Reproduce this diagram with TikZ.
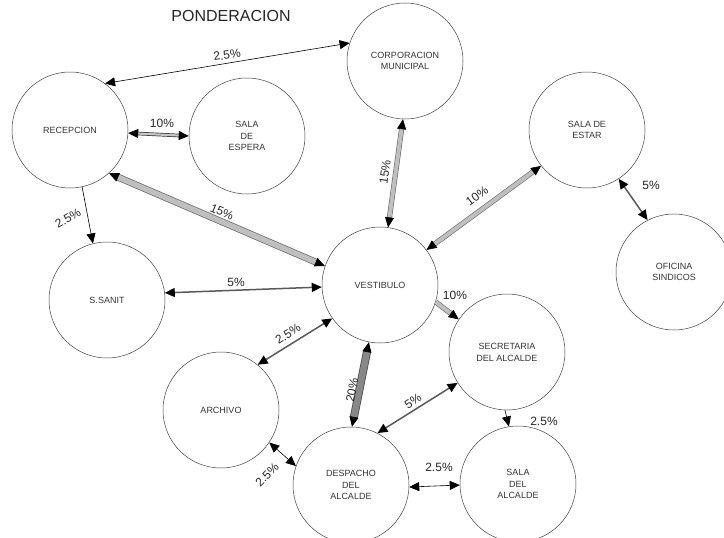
\documentclass[tikz,border=0pt]{standalone}
\usepackage{fontspec}
\setmainfont{Liberation Sans}
\usetikzlibrary{arrows.meta}

\begin{document}
\begin{tikzpicture}[x=1pt,y=-1pt,
  >={Triangle[length=10pt,width=9pt,black]},
  room/.style={circle, draw=black!75, line width=0.5pt, minimum size=116pt,
    inner sep=0pt, align=center, font=\fontsize{9}{11.8}\selectfont, text=black!80},
  slim/.style={draw=black, line width=0.6pt},
  mid/.style={draw=black!65, line width=1.5pt},
  dbl/.style={draw=black!80, line width=0.7pt, double=gray!45, double distance=2.2pt},
  band/.style={draw=black!60, line width=0.6pt, double=gray!50, double distance=4pt},
  bandbig/.style={draw=black!60, line width=0.7pt, double=gray!50, double distance=5.5pt},
  bandwide/.style={draw=black!70, line width=0.8pt, double=gray!45!black!60, double distance=6.5pt},
  pct/.style={font=\fontsize{12}{12}\selectfont, text=black!85, inner sep=0pt}
]
\useasboundingbox (0,0) rectangle (724,538);

% title
\node[font=\fontsize{16}{16}\selectfont, text=black!85] (title) at (231,16) {PONDERACION};

% rooms
\node[room] (rec)   at (70,130)  {RECEPCION};
\node[room] (esp)   at (247,136) {SALA\\DE\\ESPERA};
\node[room] (corp)  at (405,61)  {CORPORACION\\MUNICIPAL};
\node[room] (estar) at (587,130) {SALA DE\\ESTAR};
\node[room] (ofi)   at (674,272) {OFICINA\\SINDICOS};
\node[room] (vest)  at (380,285) {VESTIBULO};
\node[room] (sanit) at (107,300) {S.SANIT};
\node[room] (secr)  at (507,352) {SECRETARIA\\DEL ALCALDE};
\node[room] (arch)  at (221,410) {ARCHIVO};
\node[room] (desp)  at (351,485) {DESPACHO\\DEL\\ALCALDE};
\node[room] (salaA) at (518,484) {SALA\\DEL\\ALCALDE};

% relations
\draw[slim,<->]     (rec.53)    -- (corp.162);
\draw[dbl,<->]      (rec.-3)    -- (esp.180);
\draw[bandbig,<->]  (rec.-48)   -- (vest.161);
\draw[slim,->]      (rec.-78)   -- (sanit.104);
\draw[band,<->]     (corp.-92)  -- (vest.82);
\draw[band,<->]     (vest.37)   -- (estar.-142);
\draw[mid,<->]      (estar.-57) -- (ofi.117);
\draw[mid,<->]      (sanit.7)   -- (vest.182);
\draw[band,->]      (vest.-17)  -- (secr.146);
\draw[mid,<->]      (vest.-145) -- (arch.51);
\draw[bandwide,<->] (vest.-101) -- (desp.89);
\draw[mid,<->]      (secr.212)  -- (desp.63);
\draw[slim,->]      (secr.-92)  -- (salaA.99);
\draw[slim,<->]     (arch.-34)  -- (desp.161);
\draw[slim,<->]     (desp.-2)   -- (salaA.181);

% weights
\node[pct, rotate=8]   (w1)  at (227,55)  {2.5\%};
\node[pct]             (w2)  at (162,123) {10\%};
\node[pct, rotate=-22] (w3)  at (222,212) {15\%};
\node[pct, rotate=30]  (w4)  at (68,218)  {2.5\%};
\node[pct, rotate=82]  (w5)  at (385,172) {15\%};
\node[pct, rotate=36]  (w6)  at (477,196) {10\%};
\node[pct]             (w7)  at (651,185) {5\%};
\node[pct]             (w8)  at (236,282) {5\%};
\node[pct]             (w9)  at (455,295) {10\%};
\node[pct, rotate=32]  (w10) at (288,334) {2.5\%};
\node[pct, rotate=79]  (w11) at (352,390) {20\%};
\node[pct, rotate=32]  (w12) at (413,401) {5\%};
\node[pct]             (w13) at (544,421) {2.5\%};
\node[pct, rotate=45]  (w14) at (267,475) {2.5\%};
\node[pct]             (w15) at (439,467) {2.5\%};
\end{tikzpicture}
\end{document}
